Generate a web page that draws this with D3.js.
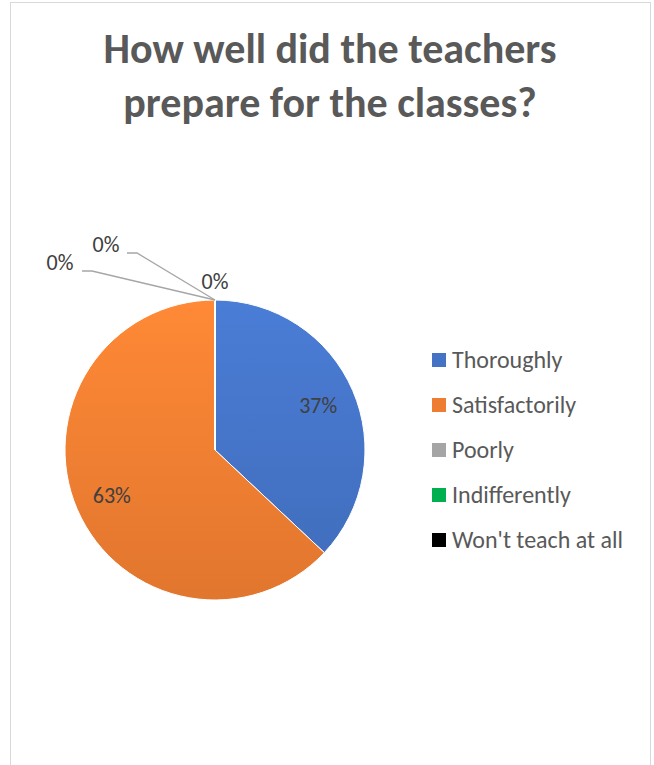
<!DOCTYPE html>
<html>
<head>
<meta charset="utf-8">
<script src="https://cdn.jsdelivr.net/npm/d3@7"></script>
<style>
  body { margin: 0; background: #fff; }
  text { font-family: Carlito, Calibri, "Liberation Sans", sans-serif; }
</style>
</head>
<body>
<div id="chart"></div>
<script>
// data
var categories = ["Thoroughly", "Satisfactorily", "Poorly", "Indifferently", "Won't teach at all"];
var values = [37, 63, 0, 0, 0];
var colors = ["#4472c4", "#ed7d31", "#a5a5a5", "#00b050", "#000000"];
var titleLines = ["How well did the teachers", "prepare for the classes?"];

var width = 654, height = 765;

var svg = d3.select('#chart')
    .append('svg')
    .attr('width', width)
    .attr('height', height);

// chart frame
svg.append('rect')
    .attr('x', 10.5).attr('y', 2.5)
    .attr('width', 640).attr('height', 800)
    .attr('fill', '#fff')
    .attr('stroke', '#d9d9d9');

// gradients, lighter at the top like the office style
var defs = svg.append('defs');
colors.forEach(function (c, i) {
    var g = defs.append('linearGradient')
        .attr('id', 'grad' + i)
        .attr('gradientUnits', 'userSpaceOnUse')
        .attr('x1', 0).attr('y1', -150).attr('x2', 0).attr('y2', 150);
    g.append('stop').attr('offset', '0%').attr('stop-color', d3.color(c).brighter(0.25));
    g.append('stop').attr('offset', '100%').attr('stop-color', d3.color(c).darker(0.15));
});

// title
svg.append('g').selectAll('text')
    .data(titleLines)
    .enter()
    .append('text')
    .attr('x', 330)
    .attr('y', function (d, i) { return 63 + i * 54; })
    .attr('text-anchor', 'middle')
    .attr('font-size', 42)
    .attr('font-weight', 'bold')
    .attr('fill', '#595959')
    .text(function (d) { return d; });

// pie
var cx = 215, cy = 450, r = 150;
var pie = d3.pie().sort(null).value(function (d) { return d; });
var arcs = pie(values);
var arc = d3.arc().innerRadius(0).outerRadius(r);

var g = svg.append('g').attr('transform', 'translate(' + [cx, cy] + ')');

g.selectAll('path')
    .data(arcs)
    .enter()
    .append('path')
    .attr('d', arc)
    .attr('fill', function (d, i) { return 'url(#grad' + i + ')'; })
    .attr('stroke', '#fff')
    .attr('stroke-width', 1);

// data labels
var total = d3.sum(values);
var labelArc = d3.arc().innerRadius(r * 0.75).outerRadius(r * 0.75);
// zero slices get pushed outside with leader lines
var zeroLabelPos = [[0, -161], [-155, -180], [-109, -198]];
var leaderEnds = [null, [-133, -179], [-88, -197]];
var zi = 0;

arcs.forEach(function (d, i) {
    var pct = Math.round(d.value / total * 100) + '%';
    var pos;
    if (d.value > 0) {
        pos = labelArc.centroid(d);
        pos[1] += 8;
    } else {
        pos = zeroLabelPos[zi];
        if (leaderEnds[zi]) {
            var e = leaderEnds[zi];
            g.append('path')
                .attr('d', d3.line()([[e[0], e[1]], [e[0] + 10, e[1]], [0, -r]]))
                .attr('fill', 'none')
                .attr('stroke', '#a6a6a6')
                .attr('stroke-width', 1.3);
        }
        zi++;
    }
    g.append('text')
        .attr('x', pos[0])
        .attr('y', pos[1])
        .attr('text-anchor', 'middle')
        .attr('font-size', 22)
        .attr('fill', '#404040')
        .text(pct);
});

// legend
var legend = svg.append('g').attr('transform', 'translate(432, 360)');
var row = legend.selectAll('g')
    .data(categories)
    .enter()
    .append('g')
    .attr('transform', function (d, i) { return 'translate(0,' + (i * 45) + ')'; });

row.append('rect')
    .attr('x', 0).attr('y', -7)
    .attr('width', 14).attr('height', 14)
    .attr('fill', function (d, i) { return colors[i]; });

row.append('text')
    .attr('x', 20)
    .attr('y', 8)
    .attr('font-size', 24)
    .attr('fill', '#595959')
    .text(function (d) { return d; });
</script>
</body>
</html>
